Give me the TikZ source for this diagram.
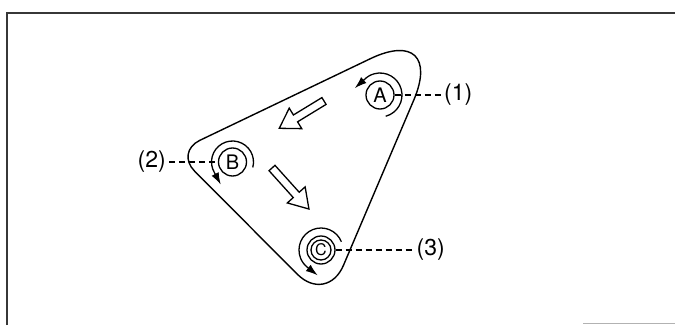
\documentclass[tikz,border=0pt]{standalone}
\usepackage{fontspec}
\setmainfont{TeX Gyre Heros}
\usepackage{tikz}
\usetikzlibrary{arrows.meta,calc}
\definecolor{framegray}{RGB}{55,55,55}

\tikzset{
  pulley/.style={circle, draw, line width=1.3pt, minimum size=28pt, inner sep=0pt, font=\fontsize{20}{20}\selectfont},
  belt/.style={line width=1.4pt},
  leader/.style={line width=1.2pt, dash pattern=on 6pt off 4pt},
  numlabel/.style={inner sep=3pt, font=\fontsize{23}{23}\selectfont},
  spin/.style={line width=1.3pt, -{Latex[length=12pt,width=8pt]}},
  flow/.style={line width=1.3pt, fill=white, line join=miter},
}
% hollow arrow: tail, angle, length
\newcommand{\flowarrow}[3]{%
  \draw[flow, shift={#1}, rotate=#2]
    (0,4) -- (#3-19,4) -- (#3-19,12) -- (#3,0) -- (#3-19,-12) -- (#3-19,-4) -- (0,-4) -- cycle;}

\begin{document}
\begin{tikzpicture}[x=1pt, y=1pt]
  \useasboundingbox (0,0) rectangle (675,325);
  % frame
  \draw[framegray, line width=1.2pt] (7,0) -- (7,312) -- (675,312);
  \draw[gray!60, line width=1pt] (583,1.5) -- (675,1.5);

  % belt
  \coordinate (cornerA) at (447,303);
  \coordinate (cornerB) at (175.5,173);
  \coordinate (cornerC) at (327,21);
  \draw[belt] ($(cornerB)!0.5!(cornerC)$) [rounded corners=42pt] -- (cornerC)
    [rounded corners=85pt] -- (cornerA) [rounded corners=27pt] -- (cornerB) -- cycle;

  % pulleys
  \node[pulley] (pulleyA) at (380,230) {A};
  \node[pulley] (pulleyB) at (232.5,163) {B};
  \node[pulley, font=\fontsize{16}{16}\selectfont] (pulleyC) at (321,75) {C};
  \draw[line width=1.3pt] (pulleyC) circle[radius=10pt];

  % turning direction
  \draw[spin] ($(pulleyA)+(-75:22)$) arc[start angle=-75, end angle=135, radius=22] -- ++(222:13);
  \draw[spin] ($(pulleyB)+(-15:21)$) arc[start angle=-15, end angle=212, radius=21] -- ++(298:13);
  \draw[spin] ($(pulleyC)+(22:22)$) arc[start angle=22, end angle=232, radius=22] -- ++(322:13);

  % belt travel
  \flowarrow{(324,224)}{211.4}{52.4}
  \flowarrow{(272,157)}{-48}{55.2}

  % labels
  \node[numlabel, anchor=west] (num1) at (441,230) {(1)};
  \node[numlabel, anchor=east] (num2) at (169,163) {(2)};
  \node[numlabel, anchor=west] (num3) at (413.5,75) {(3)};
  \draw[leader] (pulleyA.east) -- (num1.west);
  \draw[leader] (num2.east) -- (pulleyB.west);
  \draw[leader] (pulleyC.east) -- (num3.west);
\end{tikzpicture}
\end{document}
